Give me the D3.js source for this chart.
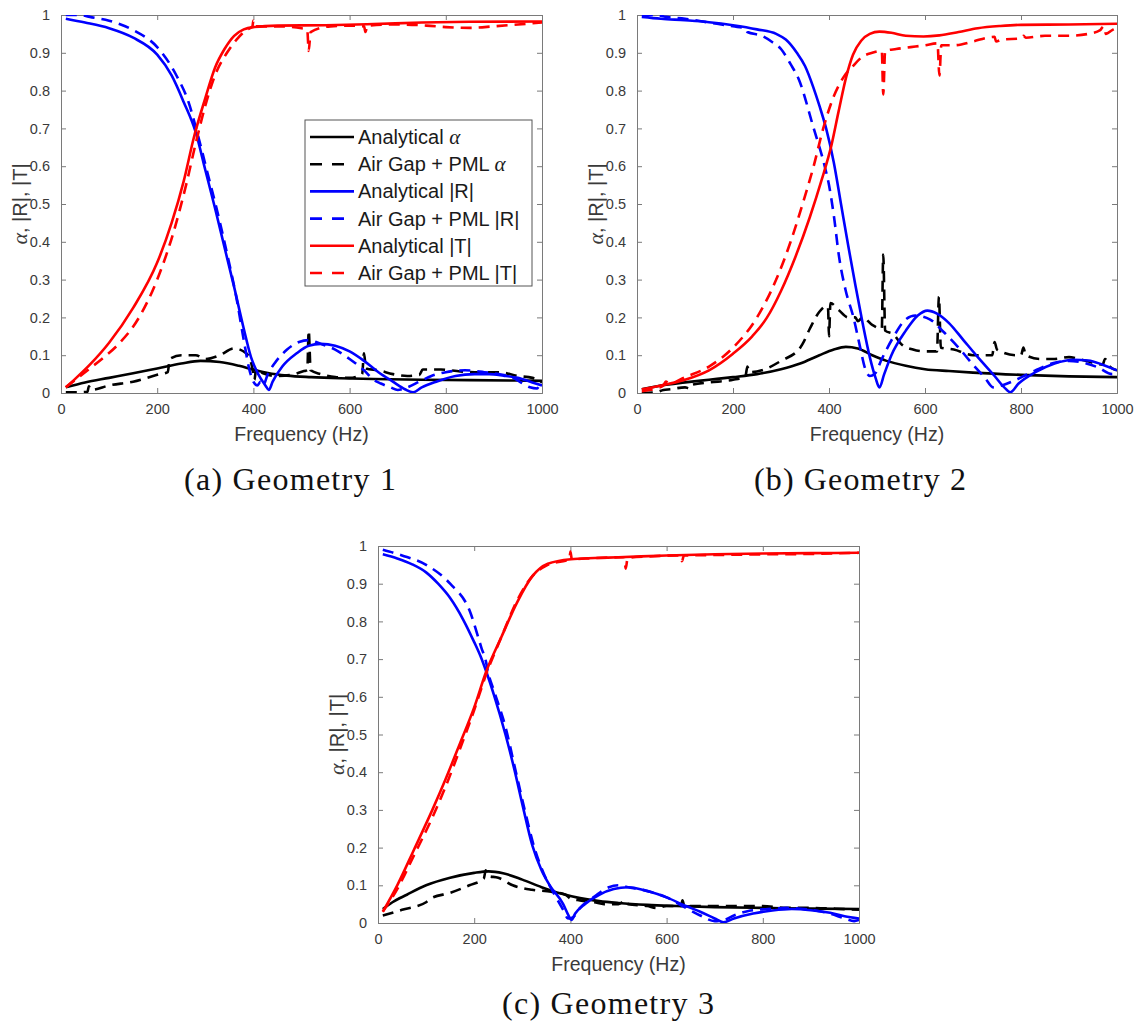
<!DOCTYPE html>
<html><head><meta charset="utf-8">
<script src="https://cdn.jsdelivr.net/npm/d3@7"></script>
<style>body{margin:0;background:#fff}</style>
</head><body>
<svg id="fig" width="1135" height="1025"></svg>
<script>
// ---------- DATA ----------
const xTicks = [0, 200, 400, 600, 800, 1000];
const yTicks = [0, 0.1, 0.2, 0.3, 0.4, 0.5, 0.6, 0.7, 0.8, 0.9, 1];
const seriesLabels = ["Analytical α", "Air Gap + PML α", "Analytical |R|", "Air Gap + PML |R|", "Analytical |T|", "Air Gap + PML |T|"];
const captions = ["(a) Geometry 1", "(b) Geometry 2", "(c) Geometry 3"];

// Geometry 1
const a_alphaAn = [[10,.015],[50,.028],[100,.04],[150,.052],[200,.065],[250,.078],[290,.085],[330,.082],[370,.072],[400,.062],[430,.053],[470,.046],[520,.042],[580,.039],[650,.037],[750,.035],[850,.034],[950,.033],[1000,.032]];
const a_alphaPML = [[10,.002],[40,.002],[55,.003],[58,.018],[62,.008],[100,.02],[150,.03],[200,.048],[222,.055],[226,.09],[250,.1],[280,.1],[300,.09],[330,.1],[360,.118],[385,.105],[398,.065],[402,.035],[406,.065],[420,.052],[450,.045],[480,.048],[505,.058],[512,.06],[515,.165],[519,.06],[540,.05],[570,.042],[600,.04],[626,.05],[630,.105],[634,.065],[660,.06],[690,.05],[720,.045],[745,.048],[752,.062],[790,.062],[830,.057],[870,.055],[910,.055],[950,.045],[980,.04],[1000,.028]];
const a_Ran = [[10,.99],[50,.98],[100,.965],[150,.94],[200,.895],[230,.84],[255,.77],[280,.69],[300,.59],[320,.49],[340,.385],[360,.28],[380,.17],[395,.095],[410,.05],[425,.02],[432,.008],[440,.03],[460,.07],[490,.105],[515,.125],[540,.13],[570,.125],[600,.11],[630,.085],[660,.055],[690,.03],[715,.01],[732,.002],[750,.015],[780,.03],[820,.045],[860,.05],[890,.05],[920,.046],[950,.04],[980,.028],[1000,.02]];
const a_Rpml = [[10,1.0],[40,1.0],[60,.995],[100,.985],[150,.96],[200,.915],[240,.84],[265,.77],[285,.68],[305,.58],[325,.48],[345,.37],[365,.25],[380,.14],[392,.06],[400,.03],[408,.02],[415,.03],[420,.02],[430,.05],[445,.08],[470,.115],[495,.135],[515,.14],[540,.13],[570,.115],[600,.09],[630,.06],[650,.035],[665,.025],[685,.015],[700,.008],[720,.015],[745,.03],[770,.045],[800,.055],[840,.06],[880,.055],[910,.05],[940,.04],[960,.025],[975,.015],[990,.012],[995,.02],[1000,.01]];
const a_Tan = [[10,.015],[30,.038],[60,.075],[100,.133],[150,.225],[200,.345],[230,.45],[255,.56],[277,.68],[300,.78],[320,.86],[340,.91],[360,.945],[380,.962],[400,.968],[450,.972],[550,.973],[650,.976],[750,.98],[850,.982],[1000,.983]];
const a_Tpml = [[10,.015],[30,.035],[60,.065],[85,.09],[120,.13],[160,.195],[200,.3],[235,.43],[260,.55],[280,.66],[300,.76],[320,.84],[345,.9],[365,.935],[385,.96],[398,.97],[400,.985],[403,.97],[450,.97],[500,.965],[512,.96],[515,.905],[519,.955],[560,.97],[600,.972],[630,.97],[633,.955],[637,.972],[700,.975],[760,.972],[800,.968],[850,.966],[900,.97],[950,.975],[1000,.98]];

// Geometry 2
const b_alphaAn = [[10,.01],[50,.02],[100,.028],[150,.035],[200,.042],[250,.05],[300,.063],[340,.078],[380,.1],[410,.115],[435,.122],[460,.118],[490,.1],[520,.085],[560,.072],[600,.063],[650,.058],[700,.054],[800,.048],[900,.044],[1000,.042]];
const b_alphaPML = [[10,0],[40,.002],[55,.008],[70,.01],[100,.015],[110,.012],[115,.022],[150,.028],[200,.035],[226,.045],[230,.07],[234,.055],[260,.06],[300,.085],[340,.12],[345,.13],[360,.17],[380,.215],[395,.23],[398,.225],[400,.15],[403,.238],[420,.22],[440,.2],[455,.2],[460,.19],[470,.2],[490,.18],[510,.17],[513,.366],[517,.165],[535,.155],[550,.13],[575,.115],[600,.11],[625,.11],[629,.255],[633,.12],[660,.115],[700,.1],[740,.1],[745,.135],[750,.115],[790,.1],[800,.1],[805,.12],[810,.1],[840,.09],[870,.09],[900,.095],[920,.09],[950,.08],[970,.075],[975,.09],[985,.07],[1000,.06]];
const b_Ran = [[10,.995],[50,.99],[100,.986],[150,.981],[200,.973],[250,.962],[290,.95],[310,.935],[333,.9],[350,.865],[367,.81],[380,.76],[394,.7],[410,.61],[425,.5],[440,.39],[455,.285],[470,.185],[485,.095],[497,.04],[505,.015],[515,.05],[530,.1],[560,.165],[585,.205],[605,.218],[625,.21],[650,.185],[680,.14],[710,.095],[745,.045],[765,.015],[778,.002],[795,.025],[830,.055],[870,.078],[910,.088],[940,.086],[970,.075],[1000,.06]];
const b_Rpml = [[10,1],[40,1],[60,.995],[100,.99],[150,.98],[200,.97],[226,.965],[230,.955],[260,.945],[280,.93],[300,.91],[320,.87],[337,.83],[367,.705],[391,.6],[400,.55],[410,.47],[421,.36],[435,.27],[451,.2],[465,.12],[474,.07],[485,.045],[495,.05],[510,.09],[535,.15],[560,.195],[580,.205],[610,.195],[640,.16],[670,.12],[700,.075],[725,.04],[742,.015],[760,.02],[790,.035],[830,.06],[870,.08],[900,.085],[930,.08],[960,.068],[990,.05],[1000,.055]];
const b_Tan = [[10,.01],[50,.02],[100,.035],[150,.06],[200,.104],[240,.15],[270,.198],[300,.27],[330,.36],[360,.465],[385,.565],[405,.655],[420,.745],[436,.837],[450,.895],[467,.932],[485,.95],[505,.956],[530,.953],[560,.945],[597,.943],[630,.946],[670,.955],[710,.965],[757,.971],[800,.974],[900,.975],[1000,.977]];
const b_Tpml = [[10,.005],[40,.012],[55,.02],[60,.03],[68,.025],[100,.042],[150,.07],[200,.12],[250,.2],[290,.3],[320,.4],[345,.5],[368,.6],[388,.7],[410,.785],[430,.835],[450,.865],[470,.89],[490,.9],[510,.905],[513,.79],[517,.905],[540,.91],[570,.915],[600,.92],[626,.925],[630,.84],[634,.92],[660,.92],[700,.93],[730,.94],[745,.942],[748,.93],[760,.935],[800,.938],[805,.945],[810,.94],[850,.945],[900,.945],[940,.95],[965,.96],[972,.97],[977,.95],[990,.96],[1000,.965]];

// Geometry 3
const c_alphaAn = [[10,.037],[30,.055],[60,.075],[100,.1],[150,.12],[200,.133],[230,.137],[260,.132],[300,.115],[340,.095],[380,.078],[420,.066],[460,.058],[500,.053],[560,.048],[620,.045],[700,.042],[800,.04],[900,.038],[1000,.037]];
const c_alphaPML = [[10,.02],[50,.035],[100,.055],[110,.065],[150,.08],[190,.1],[220,.118],[224,.14],[228,.125],[250,.12],[280,.1],[320,.088],[360,.083],[390,.075],[400,.065],[420,.06],[450,.055],[470,.05],[500,.05],[515,.06],[520,.05],[560,.045],[580,.04],[600,.045],[630,.045],[633,.06],[637,.045],[700,.045],[800,.045],[850,.04],[900,.04],[950,.038],[1000,.035]];
const c_Ran = [[10,.978],[40,.967],[70,.952],[100,.93],[125,.9],[150,.862],[177,.805],[200,.745],[213,.708],[225,.667],[241,.605],[265,.5],[283,.41],[301,.31],[321,.205],[340,.14],[357,.1],[385,.05],[396,.02],[402,.008],[410,.025],[430,.05],[460,.075],[490,.09],[520,.095],[560,.085],[600,.068],[640,.045],[670,.03],[700,.012],[718,.002],[740,.012],[780,.025],[820,.033],[860,.037],[900,.034],[940,.027],[970,.018],[1000,.012]];
const c_Rpml = [[10,.99],[50,.975],[100,.95],[150,.9],[190,.83],[215,.73],[225,.69],[228,.67],[240,.62],[265,.52],[285,.41],[305,.3],[325,.2],[345,.13],[365,.08],[385,.035],[395,.012],[405,.015],[420,.04],[450,.07],[480,.095],[500,.1],[520,.095],[550,.088],[600,.068],[640,.04],[670,.02],[700,.005],[720,.008],[740,.02],[770,.032],[810,.037],[850,.04],[900,.035],[940,.025],[970,.012],[990,.005],[1000,.008]];
const c_Tan = [[10,.03],[40,.1],[75,.195],[113,.3],[140,.38],[170,.475],[200,.572],[225,.667],[257,.76],[289,.85],[321,.92],[353,.953],[401,.965],[450,.968],[500,.97],[600,.975],[700,.978],[800,.98],[900,.981],[1000,.982]];
const c_Tpml = [[10,.03],[40,.09],[75,.18],[113,.28],[140,.36],[170,.46],[200,.565],[225,.66],[257,.76],[289,.855],[321,.92],[353,.95],[398,.965],[400,.985],[403,.965],[450,.968],[512,.97],[515,.94],[519,.968],[560,.972],[628,.975],[632,.96],[636,.975],[700,.976],[800,.978],[900,.979],[1000,.982]];

// ---------- STYLE ----------
const colors = ["#000000", "#000000", "#0000ff", "#0000ff", "#ff0000", "#ff0000"];
const dashed = [false, true, false, true, false, true];
const DASH = "11,7";
const LW = 2.6;

const panels = [
  {left: 61, top: 15, width: 481, height: 378, data: [a_alphaAn, a_alphaPML, a_Ran, a_Rpml, a_Tan, a_Tpml], caption: captions[0], capX: 290, capY: 490, legend: true},
  {left: 637, top: 15, width: 480, height: 378, data: [b_alphaAn, b_alphaPML, b_Ran, b_Rpml, b_Tan, b_Tpml], caption: captions[1], capX: 860, capY: 490, legend: false},
  {left: 378, top: 546, width: 481, height: 377, data: [c_alphaAn, c_alphaPML, c_Ran, c_Rpml, c_Tan, c_Tpml], caption: captions[2], capX: 608, capY: 1014, legend: false}
];

const svg = d3.select("#fig");
const SANS = "'Liberation Sans', Arial, Helvetica, sans-serif";
const SERIF = "'Liberation Serif', 'DejaVu Serif', serif";
const AXC = "#7a7a7a", TXT = "#3a3a3a";

panels.forEach((p, pi) => {
  const x = d3.scaleLinear().domain([0, 1000]).range([0, p.width]);
  const y = d3.scaleLinear().domain([0, 1]).range([p.height, 0]);
  const g = svg.append("g").attr("transform", `translate(${p.left},${p.top})`);

  g.append("clipPath").attr("id", "clip" + pi).append("rect")
    .attr("width", p.width).attr("height", p.height);

  const fmtY = d => d === 0 ? "0" : d === 1 ? "1" : d3.format(".1f")(d);
  const ax = [
    g.append("g").attr("transform", `translate(0,${p.height})`).call(d3.axisBottom(x).tickValues(xTicks).tickSize(-5).tickPadding(11).tickFormat(d3.format("d"))),
    g.append("g").call(d3.axisTop(x).tickValues(xTicks).tickSize(-5).tickFormat("")),
    g.append("g").call(d3.axisLeft(y).tickValues(yTicks).tickSize(-5).tickPadding(11).tickFormat(fmtY)),
    g.append("g").attr("transform", `translate(${p.width},0)`).call(d3.axisRight(y).tickValues(yTicks).tickSize(-5).tickFormat(""))
  ];
  ax.forEach(a => {
    a.select(".domain").attr("stroke", AXC).attr("stroke-width", 1);
    a.selectAll(".tick line").attr("stroke", AXC);
    a.selectAll("text").attr("fill", TXT).style("font-family", SANS).style("font-size", "14.5px");
  });

  const line = d3.line().x(d => x(d[0])).y(d => y(d[1])).curve(d3.curveMonotoneX);
  const lg = g.append("g").attr("clip-path", `url(#clip${pi})`);
  p.data.forEach((s, i) => {
    lg.append("path").datum(s).attr("d", line)
      .attr("fill", "none").attr("stroke", colors[i]).attr("stroke-width", LW)
      .attr("stroke-dasharray", dashed[i] ? DASH : null)
      .attr("stroke-linejoin", "round");
  });

  g.append("text").attr("x", p.width / 2).attr("y", p.height + 48)
    .attr("text-anchor", "middle").attr("fill", TXT)
    .style("font-family", SANS).style("font-size", "19.5px").text("Frequency (Hz)");

  const yl = g.append("text").attr("transform", `translate(-34,${p.height / 2}) rotate(-90)`)
    .attr("text-anchor", "middle").attr("fill", TXT)
    .style("font-family", SANS).style("font-size", "20px");
  yl.append("tspan").style("font-family", SERIF).style("font-style", "italic").style("font-size", "22px").text("α");
  yl.append("tspan").text(", |R|, |T|");

  svg.append("text").attr("x", p.capX).attr("y", p.capY).attr("text-anchor", "middle")
    .attr("fill", "#111").style("font-family", SERIF).style("font-size", "32px")
    .attr("textLength", 212).attr("lengthAdjust", "spacing").text(p.caption);

  if (p.legend) {
    const L = {x: 305 - p.left, y: 120 - p.top, w: 227, h: 166};
    const lgd = g.append("g");
    lgd.append("rect").attr("x", L.x).attr("y", L.y).attr("width", L.w).attr("height", L.h)
      .attr("fill", "#fff").attr("stroke", "#555").attr("stroke-width", 1);
    seriesLabels.forEach((lab, i) => {
      const cy = L.y + 17 + i * 27.2;
      lgd.append("line").attr("x1", L.x + 5).attr("x2", L.x + 49).attr("y1", cy).attr("y2", cy)
        .attr("stroke", colors[i]).attr("stroke-width", LW)
        .attr("stroke-dasharray", dashed[i] ? "12,10" : null);
      const t = lgd.append("text").attr("x", L.x + 53).attr("y", cy + 7).attr("fill", "#1a1a1a")
        .style("font-family", SANS).style("font-size", "20px");
      if (lab.endsWith("α")) {
        t.append("tspan").text(lab.slice(0, -1));
        t.append("tspan").style("font-family", SERIF).style("font-style", "italic").style("font-size", "21px").text("α");
      } else {
        t.text(lab);
      }
    });
  }
});
</script>
</body></html>
